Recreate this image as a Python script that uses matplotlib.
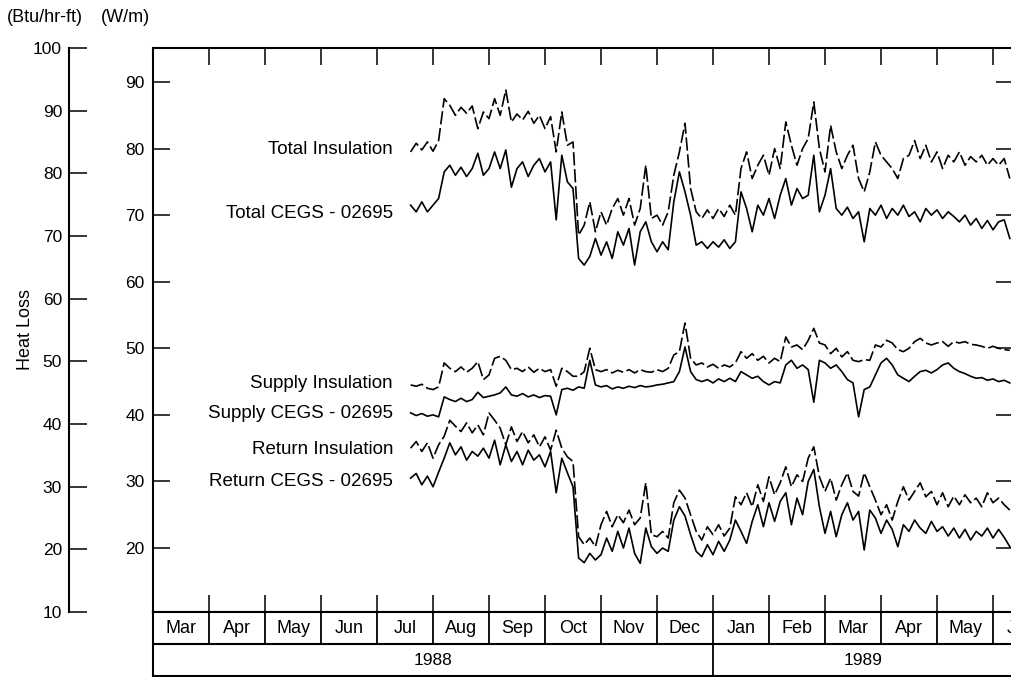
'''
Daily heat loss of the pipe insulation vs. CEGS - 02695,
Jul 1988 to Jun 1989
'''
import numpy as np
import matplotlib.pyplot as plt

plt.rcParams['font.family'] = ['Liberation Sans', 'DejaVu Sans']
plt.rcParams['font.size'] = 13

# time axis in month units: 0 = start of Mar 1988, one reading every 0.1 month
t_start = 4.6
t_step = 0.1

# heat loss in W/m
total_ins = [79.5, 80.8, 79.8, 81.0, 79.6, 81.2, 87.5, 86.5, 85.0, 86.2,
             85.3, 86.4, 83.0, 85.5, 84.5, 87.5, 85.0, 88.8, 84.0, 85.2,
             84.3, 85.6, 83.8, 85.0, 83.0, 84.8, 79.5, 85.5, 80.5, 81.0,
             67.0, 68.5, 72.0, 67.5, 70.5, 68.5, 71.0, 72.5, 70.0, 72.5,
             68.5, 71.0, 77.5, 69.5, 70.0, 68.5, 70.5, 76.0, 79.5, 83.8,
             74.0, 70.5, 69.5, 70.8, 69.5, 71.0, 69.8, 71.5, 70.0, 77.0,
             79.5, 75.5, 77.5, 79.0, 76.0, 80.0, 77.0, 84.0, 80.5, 77.5,
             80.0, 81.5, 87.0, 80.0, 76.5, 83.5, 79.5, 77.0, 79.0, 80.5,
             75.5, 73.5, 76.5, 81.0, 79.0, 78.0, 77.0, 75.5, 78.5, 79.0,
             81.2, 78.5, 80.5, 78.0, 79.5, 77.0, 79.0, 78.0, 79.5, 77.5,
             78.8, 78.0, 79.0, 77.5, 78.5, 77.5, 78.5, 75.5]
total_cegs = [71.5, 70.5, 72.0, 70.5, 71.5, 72.5, 76.5, 77.5, 76.0, 77.2,
              75.8, 77.0, 79.3, 76.0, 77.0, 79.5, 77.0, 79.8, 74.2, 77.0,
              78.0, 75.8, 77.5, 78.5, 76.5, 78.0, 69.3, 79.0, 75.0, 74.0,
              63.5, 62.5, 63.8, 66.5, 64.0, 66.0, 63.5, 67.5, 65.5, 68.0,
              62.5, 67.5, 69.0, 66.0, 64.5, 66.0, 64.8, 72.0, 76.5, 73.5,
              70.0, 65.5, 66.0, 65.0, 66.0, 65.2, 66.3, 65.0, 66.0, 73.5,
              71.0, 67.5, 71.5, 70.0, 72.5, 69.5, 73.0, 75.5, 71.5, 74.0,
              72.5, 73.0, 79.0, 70.5, 73.0, 77.0, 71.0, 70.0, 71.2, 69.5,
              70.5, 66.0, 71.0, 70.0, 71.5, 69.5, 71.0, 70.0, 71.5, 69.8,
              70.5, 69.0, 71.0, 70.0, 70.8, 69.5, 70.5, 69.8, 69.0, 70.0,
              68.5, 69.5, 68.0, 69.2, 67.8, 69.0, 69.3, 66.5]
supply_ins = [44.5, 44.3, 44.6, 44.0, 43.8, 44.2, 47.8, 47.0, 46.5, 47.2,
              46.4, 47.0, 48.0, 45.3, 46.0, 48.5, 48.8, 48.2, 46.8, 47.0,
              46.5, 47.2, 46.4, 47.0, 46.5, 46.8, 44.3, 47.0, 46.5, 45.8,
              45.8, 46.5, 50.0, 46.8, 46.5, 46.8, 46.3, 46.7, 46.4, 46.8,
              46.3, 46.8, 46.5, 46.4, 46.8, 46.5, 47.0, 49.0, 49.5, 53.8,
              48.5, 47.5, 47.8, 47.2, 47.6, 47.0, 47.5, 47.2, 47.8, 49.5,
              48.5, 49.2, 48.2, 48.8, 47.8, 48.5, 48.0, 51.7, 50.2, 50.5,
              49.8, 51.2, 53.0, 50.8, 50.5, 49.2, 50.0, 48.7, 49.5, 48.2,
              48.0, 48.3, 48.2, 50.5, 50.2, 51.2, 50.8, 49.8, 49.5, 50.0,
              51.0, 51.5, 50.8, 50.5, 50.8, 51.0, 50.3, 51.0, 50.8, 51.0,
              50.6, 50.5, 50.3, 50.0, 50.3, 50.0, 49.8, 49.7]
supply_cegs = [40.3, 39.9, 40.2, 39.8, 40.0, 39.7, 42.7, 42.3, 42.0, 42.5,
               42.0, 42.3, 43.4, 42.6, 42.8, 43.0, 43.3, 44.2, 43.0, 42.8,
               43.2, 42.7, 43.0, 42.6, 42.9, 42.8, 40.0, 43.8, 44.0, 43.7,
               44.2, 44.0, 48.2, 44.5, 44.2, 44.4, 43.9, 44.2, 44.0, 44.3,
               44.1, 44.4, 44.2, 44.3, 44.5, 44.6, 44.8, 45.0, 46.5, 50.2,
               46.5, 45.3, 45.0, 45.3, 44.8, 45.4, 45.0, 45.5, 45.0, 46.5,
               46.0, 45.5, 45.8, 45.0, 44.5, 45.0, 44.8, 47.5, 48.2, 47.0,
               47.5, 46.8, 41.9, 48.2, 47.8, 47.0, 47.5, 46.5, 45.3, 44.8,
               39.7, 43.8, 44.2, 46.0, 47.8, 48.5, 47.5, 46.0, 45.5, 45.0,
               45.8, 46.5, 46.7, 46.3, 46.8, 47.5, 47.8, 47.0, 46.5, 46.2,
               45.8, 45.5, 45.6, 45.2, 45.4, 45.0, 45.2, 44.8]
return_ins = [35.0, 36.0, 34.5, 35.8, 33.5, 35.5, 36.8, 39.2, 38.3, 37.5,
              38.8, 37.3, 38.5, 37.0, 40.3, 39.2, 38.0, 35.5, 38.2, 36.0,
              37.5, 35.8, 37.0, 35.2, 36.7, 34.7, 37.7, 35.0, 33.7, 33.0,
              21.7, 20.5, 21.5, 20.2, 23.5, 25.5, 23.2, 25.0, 23.8, 25.7,
              23.5, 24.5, 29.8, 22.0, 21.7, 22.5, 21.5, 26.8, 28.7, 27.5,
              25.0, 22.5, 21.2, 23.2, 22.0, 23.5, 21.8, 23.0, 27.7, 26.5,
              28.3, 26.2, 29.5, 27.0, 30.7, 28.0, 29.8, 32.2, 29.2, 31.0,
              30.0, 33.5, 35.2, 30.7, 28.5, 30.5, 27.2, 29.5, 31.3, 28.5,
              27.8, 31.3, 29.2, 27.2, 25.0, 26.5, 24.2, 27.0, 29.2, 27.2,
              28.5, 29.8, 27.7, 28.5, 26.5, 28.3, 26.2, 27.8, 26.5, 28.0,
              26.8, 27.5, 26.2, 28.3, 26.8, 27.5, 26.5, 25.7]
return_cegs = [30.5, 31.2, 29.5, 30.8, 29.2, 31.4, 33.5, 35.8, 34.0, 35.2,
               33.2, 34.5, 33.8, 35.0, 33.5, 36.2, 32.5, 35.5, 33.0, 34.5,
               32.5, 34.7, 33.2, 34.0, 32.2, 34.5, 28.3, 33.5, 31.3, 29.2,
               18.5, 17.8, 19.2, 18.2, 19.0, 21.5, 19.5, 22.5, 20.0, 23.0,
               19.2, 17.7, 23.0, 20.2, 19.2, 20.0, 19.5, 24.2, 26.2, 24.8,
               22.0, 19.5, 18.7, 20.5, 19.0, 21.0, 19.5, 21.2, 24.2, 22.5,
               20.7, 24.0, 26.5, 23.2, 26.8, 24.0, 27.0, 28.3, 23.5, 27.5,
               25.0, 30.0, 31.8, 26.2, 22.2, 25.5, 21.7, 25.0, 26.8, 24.2,
               25.5, 19.7, 25.7, 24.5, 22.2, 24.2, 22.8, 20.2, 23.5, 22.5,
               24.2, 23.0, 22.2, 24.0, 22.5, 23.2, 21.8, 23.0, 21.5, 22.8,
               21.2, 22.5, 21.8, 23.0, 21.5, 22.8, 21.6, 20.2]

series_labels = ['Total Insulation', 'Total CEGS - 02695',
                 'Supply Insulation', 'Supply CEGS - 02695',
                 'Return Insulation', 'Return CEGS - 02695']
label_rows = [149, 213, 384, 413, 449, 481]   # pixel rows of the labels

months = ['Mar', 'Apr', 'May', 'Jun', 'Jul', 'Aug', 'Sep', 'Oct',
          'Nov', 'Dec', 'Jan', 'Feb', 'Mar', 'Apr', 'May', 'Jun']
years = ['1988', '1989']
year_pos = [5.0, 12.68]

W, H = 1011, 677
fig = plt.figure(figsize=(W / 100, H / 100), dpi=100)

# main plot, right edge slightly past the figure like the scanned original
x_end = (1013 - 153) / 56
ax = fig.add_axes([153 / W, 1 - 612 / H, (1013 - 153) / W, (612 - 48) / H])
ax.set_xlim(0, x_end)
ax.set_ylim(10.39, 95.11)

t = t_start + t_step * np.arange(len(total_ins))
for vals, dashed in [(total_ins, True), (total_cegs, False),
                     (supply_ins, True), (supply_cegs, False),
                     (return_ins, True), (return_cegs, False)]:
    line, = ax.plot(t, vals, color='black', lw=1.2)
    if dashed:
        line.set_dashes((8, 2.2))

ax.set_yticks(range(20, 100, 10))
ax.set_xticks(range(1, 16))
ax.tick_params(axis='y', direction='in', length=12, width=1.1,
               left=True, right=True, pad=6, labelsize=12.5)
ax.tick_params(axis='x', direction='in', length=12, width=1.1,
               top=True, bottom=True, labelbottom=False)
for s in ax.spines.values():
    s.set_linewidth(1.5)

# month / year table under the plot
tab = fig.add_axes([153 / W, 1 - 676 / H, (1013 - 153) / W, (676 - 612) / H])
tab.set_xlim(0, x_end)
tab.set_ylim(0, 2)
tab.set_xticks([])
tab.set_yticks([])
tab.spines['right'].set_visible(False)
for s in tab.spines.values():
    s.set_linewidth(1.5)
tab.axhline(1, color='black', lw=1.5)
tab.vlines(range(1, 16), 1, 2, color='black', lw=1.3)
tab.vlines(10, 0, 1, color='black', lw=1.3)
for i, m in enumerate(months):
    tab.text(i + 0.5, 1.47, m, ha='center', va='center')
for pos, y in zip(year_pos, years):
    tab.text(pos, 0.47, y, ha='center', va='center', fontsize=12.5)

# second scale in Btu/hr-ft
bt = fig.add_axes([69 / W, 1 - 612 / H, 0.001, (612 - 48) / H])
bt.set_ylim(10, 100)
bt.set_yticks(range(10, 101, 10))
bt.set_xticks([])
for side in ['top', 'right', 'bottom']:
    bt.spines[side].set_visible(False)
bt.spines['left'].set_linewidth(1.5)
bt.tick_params(axis='y', direction='in', length=13, width=1.1, pad=5,
               labelsize=12.5)
bt.patch.set_visible(False)

fig.text(45 / W, 1 - 18 / H, '(Btu/hr-ft)', ha='center', va='center')
fig.text(125 / W, 1 - 18 / H, '(W/m)', ha='center', va='center')
fig.text(25 / W, 1 - 330 / H, 'Heat Loss', rotation=90,
         ha='center', va='center')

for lab, row in zip(series_labels, label_rows):
    fig.text(393 / W, 1 - row / H, lab, ha='right', va='center',
             fontsize=13.5)

fig.savefig('out.png', dpi=100)
